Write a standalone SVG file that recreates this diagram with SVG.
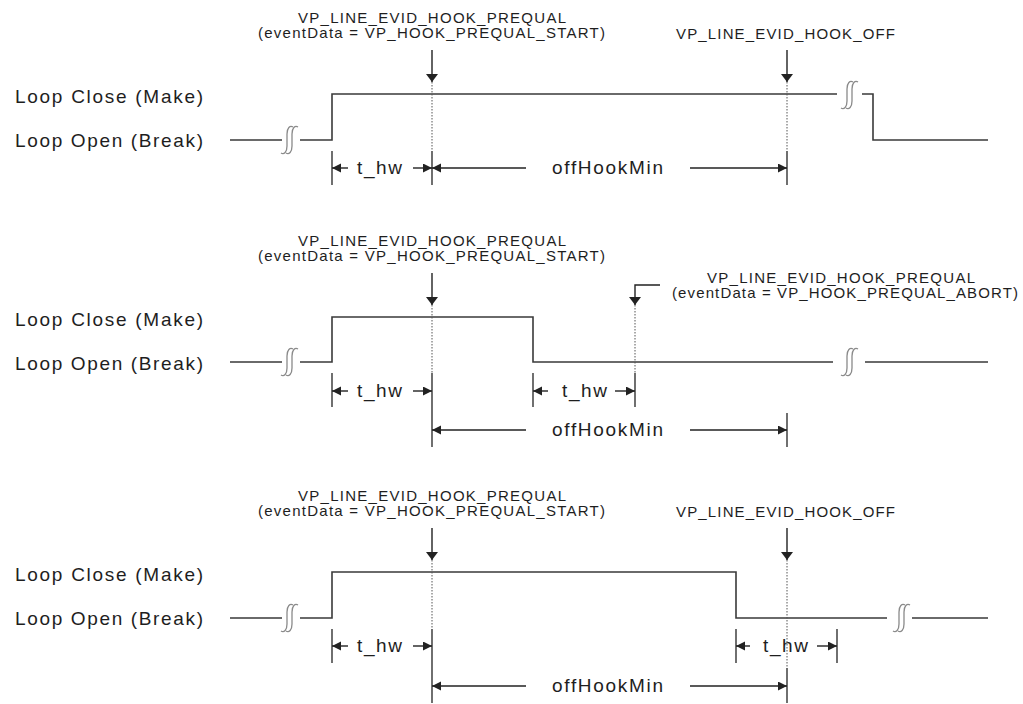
<svg xmlns="http://www.w3.org/2000/svg" width="1023" height="704" viewBox="0 0 1023 704">
<style>
.bg{fill:#fff}
.sig{fill:none;stroke:#3a3a3a;stroke-width:1.6}
.tick{stroke:#333;stroke-width:1.4}
.dot{stroke:#555;stroke-width:1;stroke-dasharray:1.5 1.5}
.evt{fill:none;stroke:#222;stroke-width:1.4;marker-end:url(#ev)}
.dim{stroke:#222;stroke-width:1.4;marker-end:url(#dm)}
.brk{fill:none;stroke:#8a8a8a;stroke-width:1.3}
.lbl{font-family:"Liberation Sans",Arial,sans-serif;font-size:19px;fill:#1e1e1e}
.ev{font-family:"Liberation Sans",Arial,sans-serif;font-size:15px;fill:#1e1e1e}
.dt{font-family:"Liberation Sans",Arial,sans-serif;font-size:19px;fill:#1e1e1e}
</style>
<defs>
<marker id="ev" markerUnits="userSpaceOnUse" markerWidth="9" markerHeight="13" refX="8" refY="6" orient="auto"><path d="M0,0 L8,6 L0,12 z" fill="#222"/></marker>
<marker id="dm" markerUnits="userSpaceOnUse" markerWidth="10" markerHeight="10" refX="9" refY="4.5" orient="auto"><path d="M0,0 L9,4.5 L0,9 z" fill="#222"/></marker>
<g id="brk"><path class="brk" d="M4,-13 C1,-15 -2,-12 -2,-6 L-2,6 C-2,12 -5,15 -8,13"/><path class="brk" d="M9,-13 C6,-15 3,-12 3,-6 L3,6 C3,12 0,15 -3,13"/></g>
</defs>
<rect class="bg" x="0" y="0" width="1023" height="704"/>

<g id="panel1">
<g id="p1-labels">
<text class="lbl" x="15" y="103" textLength="188" lengthAdjust="spacing">Loop Close (Make)</text>
<text class="lbl" x="15" y="147" textLength="188" lengthAdjust="spacing">Loop Open (Break)</text>
<text class="ev" x="298" y="23" textLength="268" lengthAdjust="spacing">VP_LINE_EVID_HOOK_PREQUAL</text>
<text class="ev" x="258" y="38" textLength="347" lengthAdjust="spacing">(eventData = VP_HOOK_PREQUAL_START)</text>
<text class="ev" x="676" y="39" textLength="219" lengthAdjust="spacing">VP_LINE_EVID_HOOK_OFF</text>
<text class="dt" x="357" y="174" textLength="45" lengthAdjust="spacing">t_hw</text>
<text class="dt" x="552" y="174" textLength="111" lengthAdjust="spacing">offHookMin</text>
</g>
<g id="p1-signal">
<path class="sig" d="M230,140 H282 M300,140 H332 V94 H837 M862,94 H873 V140 H988"/>
<use href="#brk" x="289" y="140"/>
<use href="#brk" x="849" y="95"/>
</g>
</g>

<g id="panel2">
<g id="p2-labels">
<text class="lbl" x="15" y="326" textLength="188" lengthAdjust="spacing">Loop Close (Make)</text>
<text class="lbl" x="15" y="370" textLength="188" lengthAdjust="spacing">Loop Open (Break)</text>
<text class="ev" x="298" y="246" textLength="268" lengthAdjust="spacing">VP_LINE_EVID_HOOK_PREQUAL</text>
<text class="ev" x="258" y="261" textLength="347" lengthAdjust="spacing">(eventData = VP_HOOK_PREQUAL_START)</text>
<text class="ev" x="707" y="283" textLength="268" lengthAdjust="spacing">VP_LINE_EVID_HOOK_PREQUAL</text>
<text class="ev" x="672" y="298" textLength="346" lengthAdjust="spacing">(eventData = VP_HOOK_PREQUAL_ABORT)</text>
<text class="dt" x="357" y="397" textLength="45" lengthAdjust="spacing">t_hw</text>
<text class="dt" x="562" y="397" textLength="45" lengthAdjust="spacing">t_hw</text>
<text class="dt" x="552" y="436" textLength="111" lengthAdjust="spacing">offHookMin</text>
</g>
<g id="p2-signal">
<path class="sig" d="M230,362 H282 M300,362 H332 V317 H533 V362 H833 M865,362 H988"/>
<use href="#brk" x="289" y="362"/>
<use href="#brk" x="849" y="362"/>
</g>
</g>

<g id="panel3">
<g id="p3-labels">
<text class="lbl" x="15" y="581" textLength="188" lengthAdjust="spacing">Loop Close (Make)</text>
<text class="lbl" x="15" y="625" textLength="188" lengthAdjust="spacing">Loop Open (Break)</text>
<text class="ev" x="298" y="501" textLength="268" lengthAdjust="spacing">VP_LINE_EVID_HOOK_PREQUAL</text>
<text class="ev" x="258" y="516" textLength="347" lengthAdjust="spacing">(eventData = VP_HOOK_PREQUAL_START)</text>
<text class="ev" x="676" y="517" textLength="219" lengthAdjust="spacing">VP_LINE_EVID_HOOK_OFF</text>
<text class="dt" x="357" y="652" textLength="45" lengthAdjust="spacing">t_hw</text>
<text class="dt" x="763" y="652" textLength="45" lengthAdjust="spacing">t_hw</text>
<text class="dt" x="552" y="692" textLength="111" lengthAdjust="spacing">offHookMin</text>
</g>
<g id="p3-signal">
<path class="sig" d="M230,618 H282 M300,618 H332 V572 H736 V618 H887 M912,618 H988"/>
<use href="#brk" x="289" y="618"/>
<use href="#brk" x="901" y="618"/>
</g>
</g>

<g id="connectors">
<line class="dot" x1="432" y1="82" x2="432" y2="151"/>
<line class="dot" x1="787" y1="82" x2="787" y2="151"/>
<line class="dot" x1="432" y1="305" x2="432" y2="373"/>
<line class="dot" x1="635" y1="305" x2="635" y2="373"/>
<line class="dot" x1="432" y1="560" x2="432" y2="629"/>
<line class="dot" x1="787" y1="560" x2="787" y2="668"/>
<line class="tick" x1="332" y1="151" x2="332" y2="185"/>
<line class="tick" x1="432" y1="151" x2="432" y2="185"/>
<line class="tick" x1="787" y1="151" x2="787" y2="185"/>
<line class="tick" x1="332" y1="373" x2="332" y2="407"/>
<line class="tick" x1="432" y1="373" x2="432" y2="447"/>
<line class="tick" x1="533" y1="373" x2="533" y2="407"/>
<line class="tick" x1="635" y1="373" x2="635" y2="407"/>
<line class="tick" x1="787" y1="413" x2="787" y2="447"/>
<line class="tick" x1="332" y1="629" x2="332" y2="663"/>
<line class="tick" x1="432" y1="629" x2="432" y2="703"/>
<line class="tick" x1="736" y1="629" x2="736" y2="663"/>
<line class="tick" x1="837" y1="629" x2="837" y2="663"/>
<line class="tick" x1="787" y1="668" x2="787" y2="703"/>
<path class="evt" d="M432,50 V82"/>
<path class="evt" d="M787,50 V82"/>
<path class="evt" d="M432,273 V305"/>
<path class="evt" d="M660,285 H635 V305"/>
<path class="evt" d="M432,528 V560"/>
<path class="evt" d="M787,528 V560"/>
<line class="dim" x1="348" y1="168" x2="332" y2="168"/>
<line class="dim" x1="413" y1="168" x2="432" y2="168"/>
<line class="dim" x1="526" y1="168" x2="432" y2="168"/>
<line class="dim" x1="690" y1="168" x2="787" y2="168"/>
<line class="dim" x1="348" y1="391" x2="332" y2="391"/>
<line class="dim" x1="413" y1="391" x2="432" y2="391"/>
<line class="dim" x1="548" y1="391" x2="533" y2="391"/>
<line class="dim" x1="615" y1="391" x2="635" y2="391"/>
<line class="dim" x1="526" y1="430" x2="432" y2="430"/>
<line class="dim" x1="690" y1="430" x2="787" y2="430"/>
<line class="dim" x1="348" y1="646" x2="332" y2="646"/>
<line class="dim" x1="413" y1="646" x2="432" y2="646"/>
<line class="dim" x1="750" y1="646" x2="736" y2="646"/>
<line class="dim" x1="817" y1="646" x2="837" y2="646"/>
<line class="dim" x1="526" y1="686" x2="432" y2="686"/>
<line class="dim" x1="690" y1="686" x2="787" y2="686"/>
</g>
</svg>
